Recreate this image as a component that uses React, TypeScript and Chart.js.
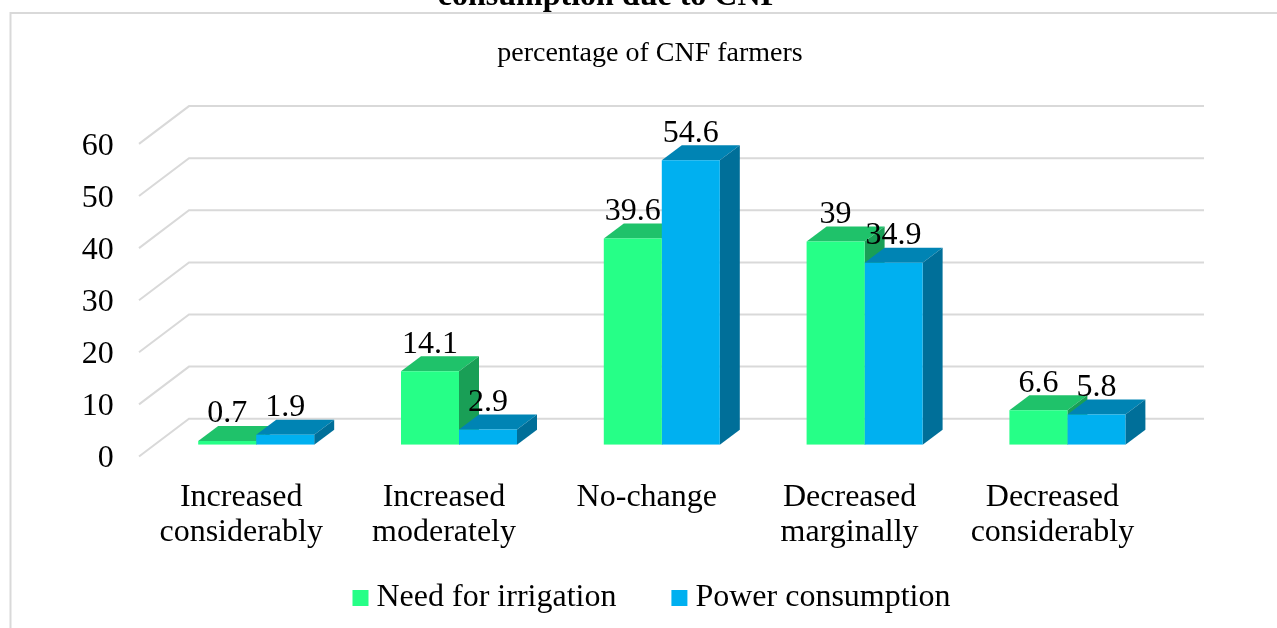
import React, { useEffect, useRef } from "react";
import { Chart, registerables } from "chart.js";

Chart.register(...registerables);

const categories = [
  ["Increased", "considerably"],
  ["Increased", "moderately"],
  ["No-change"],
  ["Decreased", "marginally"],
  ["Decreased", "considerably"],
];
const irrigation = [0.7, 14.1, 39.6, 39, 6.6];
const power = [1.9, 2.9, 54.6, 34.9, 5.8];
const titleText = "consumption due to CNF";
const subtitleText = "percentage of CNF farmers";

const FONT = "'Liberation Serif'";
const SIZE = 32;
const faces: Record<string, { top: string; side: string }> = {
  "#26FF87": { top: "#1FC26A", side: "#199F56" },
  "#00B0F0": { top: "#0084B4", side: "#006F99" },
};
const DX = 20;
const DY = 15;

function drawFaces(chart: any, index: number) {
  const { ctx } = chart;
  const meta = chart.getDatasetMeta(index);
  const col = faces[chart.data.datasets[index].backgroundColor];
  ctx.save();
  meta.data.forEach((bar: any) => {
    const l = bar.x - bar.width / 2;
    const r = bar.x + bar.width / 2;
    ctx.fillStyle = col.top;
    ctx.beginPath();
    ctx.moveTo(l, bar.y);
    ctx.lineTo(l + DX, bar.y - DY);
    ctx.lineTo(r + DX, bar.y - DY);
    ctx.lineTo(r, bar.y);
    ctx.closePath();
    ctx.fill();
    ctx.fillStyle = col.side;
    ctx.beginPath();
    ctx.moveTo(r, bar.y);
    ctx.lineTo(r + DX, bar.y - DY);
    ctx.lineTo(r + DX, bar.base - DY);
    ctx.lineTo(r, bar.base);
    ctx.closePath();
    ctx.fill();
  });
  ctx.restore();
}

const frame = {
  id: "frame",
  afterLayout(chart: any) {
    const legend = chart.legend;
    const h = legend.bottom - legend.top;
    legend.top = 519;
    legend.bottom = 519 + h;
  },
  beforeDatasetsDraw(chart: any) {
    const { ctx, scales } = chart;
    const y = scales.y;
    ctx.save();
    ctx.strokeStyle = "#D9D9D9";
    ctx.lineWidth = 2;
    ctx.beginPath();
    ctx.moveTo(10.5, 628);
    ctx.lineTo(10.5, 13);
    ctx.lineTo(1277, 13);
    ctx.stroke();
    y.ticks.forEach((t: any) => {
      const p = y.getPixelForValue(t.value);
      ctx.beginPath();
      ctx.moveTo(139, p + 11.8);
      ctx.lineTo(189, p - 26);
      ctx.lineTo(1204, p - 26);
      ctx.stroke();
    });
    ctx.fillStyle = "#000";
    ctx.textAlign = "center";
    ctx.textBaseline = "alphabetic";
    ctx.font = `bold 32px ${FONT}`;
    ctx.fillText(titleText, 609, 5);
    ctx.font = `28px ${FONT}`;
    ctx.fillText(subtitleText, 650, 61);
    ctx.restore();
    drawFaces(chart, 0);
  },
  beforeDatasetDraw(chart: any, args: any) {
    if (args.index > 0) drawFaces(chart, args.index);
  },
  afterDatasetsDraw(chart: any) {
    const { ctx } = chart;
    ctx.save();
    ctx.fillStyle = "#000";
    ctx.textAlign = "center";
    ctx.textBaseline = "middle";
    ctx.font = `${SIZE}px ${FONT}`;
    chart.data.datasets.forEach((ds: any, i: number) => {
      chart.getDatasetMeta(i).data.forEach((bar: any, j: number) => {
        ctx.fillText(String(ds.data[j]), bar.x, bar.y - 27);
      });
    });
    ctx.restore();
  },
};

export default function App() {
  const ref = useRef<HTMLCanvasElement>(null);
  useEffect(() => {
    const chart = new Chart(ref.current as HTMLCanvasElement, {
      type: "bar",
      data: {
        labels: categories as any,
        datasets: [
          { label: "Need for irrigation", data: irrigation, backgroundColor: "#26FF87" },
          { label: "Power consumption", data: power, backgroundColor: "#00B0F0" },
        ],
      },
      plugins: [frame],
      options: {
        responsive: false,
        animation: false,
        layout: { padding: { top: 132.1, left: 34, right: 0, bottom: -105 } },
        datasets: { bar: { categoryPercentage: 0.572, barPercentage: 1 } },
        plugins: {
          tooltip: { enabled: false },
          legend: {
            position: "bottom",
            labels: {
              usePointStyle: true,
              pointStyle: "rect",
              boxWidth: 0.01,
              boxHeight: 16,
              padding: 63,
              color: "#000",
              font: { family: FONT, size: SIZE },
            },
          },
        },
        scales: {
          x: {
            grid: { display: false },
            border: { display: false },
            ticks: {
              color: "#000",
              font: { family: FONT, size: SIZE, lineHeight: 1.1 },
              labelOffset: -15,
              padding: 27,
              maxRotation: 0,
              autoSkip: false,
            },
            afterFit(s: any) {
              s.height = 183.3;
            },
          },
          y: {
            min: 0,
            max: 60,
            grid: { display: false },
            border: { display: false },
            ticks: {
              stepSize: 10,
              color: "#000",
              font: { family: FONT, size: SIZE },
              labelOffset: 14,
              padding: 33,
            },
            afterFit(s: any) {
              s.width = 120.8;
            },
          },
          gap: {
            position: "right",
            grid: { display: false },
            border: { display: false },
            ticks: { display: false },
            afterFit(s: any) {
              s.width = 108.2;
            },
          },
        },
      } as any,
    });
    return () => chart.destroy();
  }, []);
  return (
    <canvas
      ref={ref}
      width={1277}
      height={628}
      style={{ position: "fixed", left: 0, top: 0, width: 1277, height: 628, background: "#fff" }}
    />
  );
}
